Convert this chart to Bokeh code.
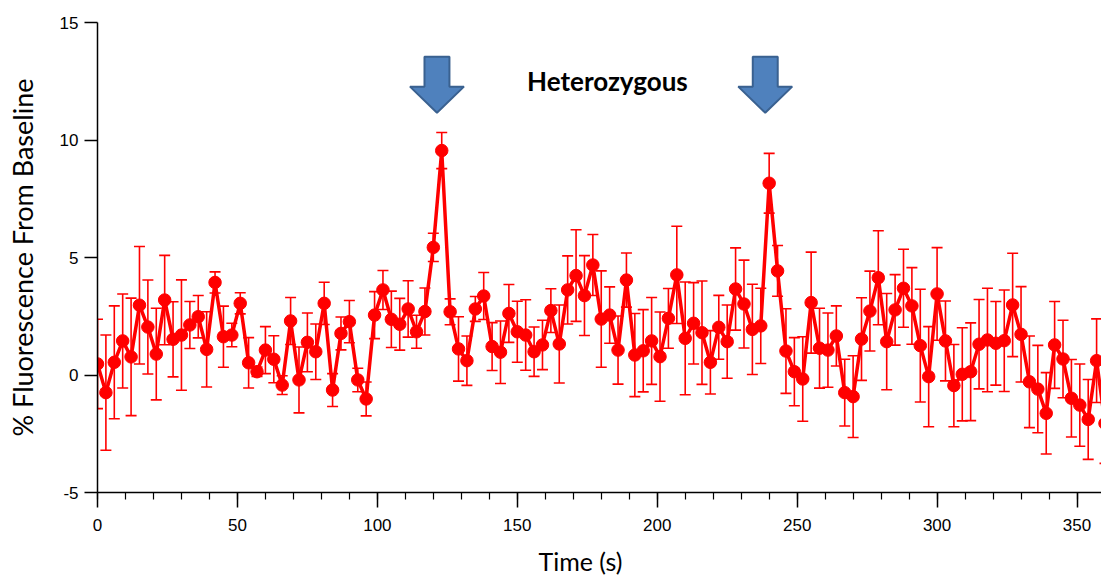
from bokeh.plotting import figure
from bokeh.models import (ColumnDataSource, Whisker, TeeHead, FixedTicker, Label, Range1d, Title)
from bokeh.embed import file_html
from bokeh.resources import INLINE

# ---- data ----
time_s = [0, 3, 6, 9, 12, 15, 18, 21, 24, 27, 30, 33, 36, 39, 42, 45, 48, 51, 54, 57,
          60, 63, 66, 69, 72, 75, 78, 81, 84, 87, 90, 93, 96, 99, 102, 105, 108, 111, 114, 117,
          120, 123, 126, 129, 132, 135, 138, 141, 144, 147, 150, 153, 156, 159, 162, 165, 168, 171, 174, 177,
          180, 183, 186, 189, 192, 195, 198, 201, 204, 207, 210, 213, 216, 219, 222, 225, 228, 231, 234, 237,
          240, 243, 246, 249, 252, 255, 258, 261, 264, 267, 270, 273, 276, 279, 282, 285, 288, 291, 294, 297,
          300, 303, 306, 309, 312, 315, 318, 321, 324, 327, 330, 333, 336, 339, 342, 345, 348, 351, 354, 357,
          360]

fluor = [0.47, -0.75, 0.54, 1.45, 0.77, 2.97, 2.04, 0.89, 3.19, 1.52,
         1.70, 2.13, 2.48, 1.09, 3.94, 1.63, 1.70, 3.05, 0.52, 0.14,
         1.06, 0.67, -0.43, 2.30, -0.21, 1.39, 0.99, 3.05, -0.64, 1.77,
         2.27, -0.21, -1.02, 2.55, 3.62, 2.37, 2.16, 2.81, 1.84, 2.70,
         5.43, 9.55, 2.69, 1.11, 0.61, 2.81, 3.36, 1.21, 0.97, 2.62,
         1.84, 1.70, 0.99, 1.28, 2.74, 1.32, 3.62, 4.23, 3.38, 4.68,
         2.38, 2.55, 1.06, 4.04, 0.85, 1.03, 1.45, 0.78, 2.41, 4.26,
         1.56, 2.20, 1.80, 0.54, 2.03, 1.42, 3.66, 3.02, 1.94, 2.09,
         8.16, 4.43, 1.02, 0.14, -0.17, 3.08, 1.14, 1.06, 1.66, -0.75,
         -0.92, 1.53, 2.72, 4.14, 1.42, 2.77, 3.69, 2.94, 1.25, -0.07,
         3.45, 1.45, -0.45, 0.03, 0.14, 1.31, 1.49, 1.35, 1.46, 2.98,
         1.73, -0.29, -0.60, -1.63, 1.28, 0.68, -0.99, -1.28, -1.89, 0.61,
         -2.06]

sem = [1.9, 2.45, 2.4, 2.0, 2.5, 2.5, 2.0, 1.95, 1.9, 1.6,
       2.35, 1.0, 0.9, 1.6, 0.45, 1.3, 0.5, 0.45, 1.07, 0.2,
       1.0, 1.0, 0.4, 1.0, 1.4, 1.25, 1.18, 0.9, 0.7, 0.7,
       0.9, 0.5, 0.72, 1.0, 0.83, 1.2, 1.1, 1.2, 0.7, 1.0,
       0.6, 0.77, 0.55, 1.37, 1.05, 0.53, 1.0, 1.02, 1.33, 1.23,
       1.3, 1.5, 1.05, 1.05, 0.93, 1.66, 1.45, 1.95, 1.7, 1.3,
       2.05, 1.2, 1.45, 1.15, 1.77, 1.75, 1.85, 1.9, 1.27, 2.07,
       2.4, 1.73, 2.2, 1.35, 1.36, 1.56, 1.75, 1.87, 1.92, 1.6,
       1.27, 1.08, 1.8, 1.45, 1.8, 2.15, 1.7, 1.58, 1.28, 1.42,
       1.74, 1.76, 1.7, 2.0, 2.05, 1.5, 1.66, 1.63, 2.4, 2.13,
       1.97, 1.7, 1.75, 1.98, 2.08, 1.9, 2.2, 1.78, 2.16, 2.2,
       2.03, 1.95, 1.86, 1.73, 1.85, 1.65, 1.65, 1.75, 1.7, 1.78,
       1.7]

x_ticks = [0, 50, 100, 150, 200, 250, 300, 350]
x_minor_ticks = [0, 10, 20, 30, 40, 50, 60, 70, 80, 90, 100, 110, 120, 130, 140, 150, 160, 170,
                 180, 190, 200, 210, 220, 230, 240, 250, 260, 270, 280, 290, 300, 310, 320, 330,
                 340, 350]
y_ticks = [-5, 0, 5, 10, 15]
y_tick_labels = {-5: "-5", 0: "0", 5: "5", 10: "10", 15: "15"}
stimulus_times = [121.3, 238.6]   # arrow positions (s)
title_text = "Heterozygous"
x_title = "Time (s)"

# ---- figure ----
RED = "#ff0000"
p = figure(width=1101, height=586, output_backend="svg", toolbar_location=None,
           x_range=Range1d(0, 358.75), y_range=Range1d(-5, 15),
           min_border_left=97, min_border_right=0, min_border_top=22, min_border_bottom=94)
p.outline_line_color = None
p.grid.visible = False
p.background_fill_color = "white"
p.border_fill_color = "white"

lower = [v - e for v, e in zip(fluor, sem)]
upper = [v + e for v, e in zip(fluor, sem)]
src = ColumnDataSource(dict(t=time_s, f=fluor, lo=lower, hi=upper))

wh = Whisker(source=src, base="t", lower="lo", upper="hi", line_color=RED, line_width=1.6,
             upper_head=TeeHead(size=11, line_color=RED, line_width=1.6),
             lower_head=TeeHead(size=11, line_color=RED, line_width=1.6))
p.add_layout(wh)
p.line("t", "f", source=src, line_color=RED, line_width=3.5)
p.scatter("t", "f", source=src, size=12.5, fill_color=RED, line_color=RED)

# arrows
hw, hh = 4.46, 9.64
y_top, y_head, y_tip = 13.54, 12.27, 11.16
for cx in stimulus_times:
    p.patch([cx - hw, cx + hw, cx + hw, cx + hh, cx, cx - hh, cx - hw],
            [y_top, y_top, y_head, y_head, y_tip, y_head, y_head],
            fill_color="#4f81bd", line_color="#3a6190", line_width=2)

p.add_layout(Label(x=182.2, y=12.5, text=title_text, text_align="center", text_baseline="middle",
                   text_font="Lato", text_font_style="bold", text_font_size="26px", text_color="black"))

# axes
xa = p.xaxis[0]
xa.ticker = FixedTicker(ticks=x_ticks, minor_ticks=x_minor_ticks)
xa.major_tick_out = 15
xa.major_tick_in = 0
xa.minor_tick_out = 7
xa.minor_tick_in = 0
xa.axis_line_width = 1.5
xa.major_tick_line_width = 1.5
xa.minor_tick_line_width = 1.2
xa.major_label_text_font = "Liberation Sans"
xa.major_label_text_font_size = "17px"
xa.major_label_text_color = "black"
xa.major_label_standoff = 11

ya = p.yaxis[0]
ya.ticker = FixedTicker(ticks=y_ticks, minor_ticks=[])
ya.major_label_overrides = y_tick_labels
ya.major_tick_out = 13
ya.major_tick_in = 0
ya.minor_tick_out = 0
ya.minor_tick_in = 0
ya.axis_line_width = 1.5
ya.major_tick_line_width = 1.5
ya.major_label_text_font = "Liberation Sans"
ya.major_label_text_font_size = "17px"
ya.major_label_text_color = "black"
ya.major_label_standoff = 6
ya.axis_label = "% Fluorescence From Baseline"
ya.axis_label_text_font = "Lato"
ya.axis_label_text_font_style = "normal"
ya.axis_label_text_font_size = "27px"
ya.axis_label_text_color = "black"
ya.axis_label_standoff = 18

xt = Title(text=x_title, align="left", offset=441, text_font="Lato", text_font_size="25px",
           text_font_style="normal", text_color="black", standoff=20, vertical_align="bottom")
p.add_layout(xt, "below")

open("out.html", "w").write(file_html(p, INLINE))
